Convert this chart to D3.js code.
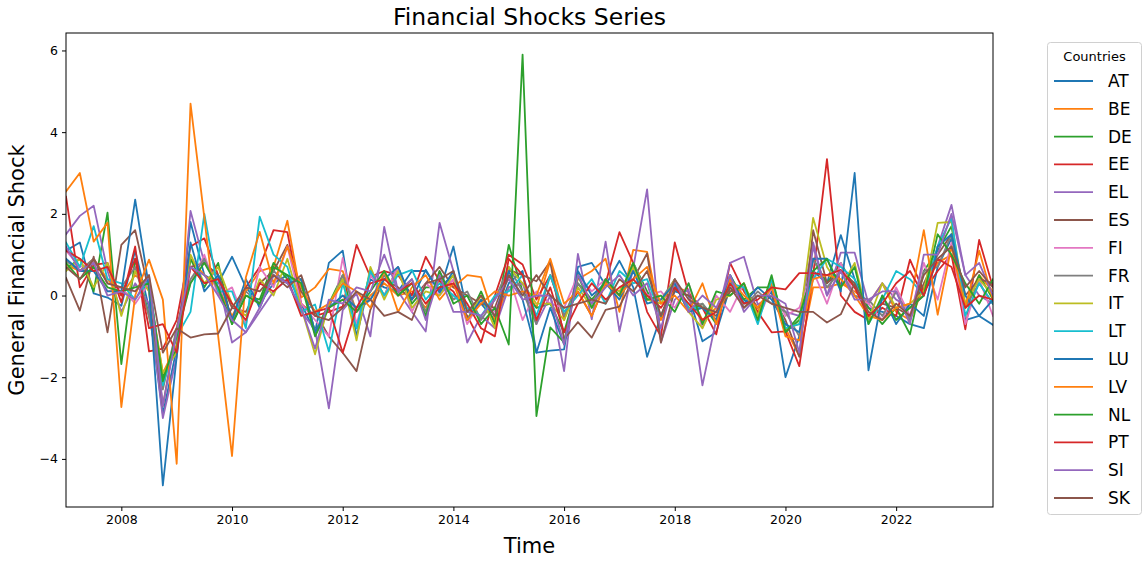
<!DOCTYPE html>
<html><head><meta charset="utf-8">
<script src="https://cdn.jsdelivr.net/npm/d3@7"></script>
<style>
body{margin:0;background:#fff;}
svg{display:block;font-family:"DejaVu Sans",sans-serif;}
</style></head>
<body><svg id="chart" width="1148" height="574"></svg>
<script>
// ---- data (quarterly, 2007Q1 .. 2023Q4) ----
const countries = ["AT","BE","DE","EE","EL","ES","FI","FR","IT","LT","LU","LV","NL","PT","SI","SK"];
const startYear = 2007, nQuarters = 68;
const xTicks = [2008,2010,2012,2014,2016,2018,2020,2022];
const yTicks = [-4,-2,0,2,4,6];

const AT = [1.1,1.3,0.05,-0.05,-0.25,1.1,-0.3,-2.9,-1.3,1.8,0.5,0.3,0.95,0.2,-0.2,0.3,0.5,
 -0.2,-0.9,0.8,1.1,-1.0,0.4,0.2,0.1,0.6,0.6,0.1,1.2,-0.4,-0.2,-0.6,0.3,0.6,
 -1.4,-1.35,-1.32,0.7,0.8,0.25,0.85,0.2,-1.5,-0.5,0.1,0.0,-1.12,-0.9,0.2,-0.1,-0.3,
 0.1,-2.0,-1.0,0.6,0.3,1.48,0.4,-0.3,-0.4,-0.5,-0.7,-0.8,0.7,1.4,-0.6,-0.5,-0.72];
const BE = [0.75,0.6,0.9,0.4,0.0,0.5,0.2,-1.9,-1.2,0.9,0.5,0.2,-0.5,0.1,0.6,0.7,1.83,
 -0.05,0.2,0.65,0.6,-0.4,0.0,0.3,0.0,0.1,-0.3,0.4,0.2,0.5,0.45,-0.6,0.2,0.3,
 -0.3,0.85,-0.6,0.4,0.6,0.9,-0.4,1.12,1.07,-0.6,0.2,0.1,-0.6,-0.3,0.1,0.2,-0.4,
 0.3,-0.8,-1.48,0.2,0.2,0.3,0.1,-0.2,0.3,-0.4,-0.6,0.2,0.8,1.0,-0.2,0.5,0.1];
const DE = [0.65,0.9,0.1,2.03,-1.68,0.9,-0.5,-2.0,-1.3,0.9,0.2,0.8,-0.7,0.0,-0.1,0.8,0.4,
 0.4,-0.9,-0.2,0.5,-0.8,0.6,0.0,0.7,-0.2,0.2,0.2,0.5,-0.6,0.1,-0.7,1.24,0.1,
 -0.3,-0.2,-0.9,0.3,-0.1,0.3,0.0,0.8,0.1,-0.5,0.3,-0.4,-0.2,-0.7,0.5,-0.1,0.2,
 0.2,-0.9,-0.6,0.9,0.3,0.8,0.2,-0.3,-0.7,-0.3,-0.95,0.6,1.1,1.7,-0.3,0.5,-0.1];
const EE = [2.42,0.2,0.75,0.8,-0.17,1.2,-1.37,-1.3,-0.6,1.2,1.4,0.5,-0.6,0.2,0.7,1.6,1.55,
 -0.2,-0.5,-0.4,-0.27,1.24,0.46,0.6,0.5,0.0,0.95,0.35,0.1,-0.5,-1.15,0.0,1.0,0.76,
 -0.1,0.5,-0.5,0.1,-0.5,0.3,1.55,0.8,-0.4,-1.0,1.3,0.05,-0.3,-0.95,0.8,0.1,-0.4,
 -0.9,-0.88,-1.73,0.5,3.34,0.0,-0.4,-0.6,-0.3,-0.5,0.88,0.1,0.6,1.0,-0.83,1.36,0.2];
const EL = [1.5,1.95,2.2,0.6,-0.4,0.3,-0.2,-3.0,-1.5,2.07,0.8,0.4,-1.15,-0.9,-0.4,0.1,0.4,
 -0.4,-0.83,-2.76,-0.36,0.05,-1.0,1.68,0.1,-0.4,-0.88,1.78,0.6,-1.15,-0.5,-0.8,0.2,0.3,
 -0.7,0.0,-1.85,1.02,-0.58,1.32,-0.88,0.68,2.6,-1.15,-0.1,0.15,-2.2,-0.58,0.8,0.95,-0.22,
 0.0,-0.4,-0.5,1.3,0.0,1.05,1.05,-0.2,0.3,-0.1,-0.3,0.0,1.2,2.22,0.5,0.0,-0.2];
const ES = [0.43,-0.37,0.95,-0.9,1.24,1.6,0.1,-2.7,-0.8,0.7,0.8,0.5,-0.3,-0.4,0.3,0.6,1.24,
 0.1,-0.4,-1.0,-1.4,-1.85,-0.35,0.4,0.2,-0.1,0.3,0.7,0.2,0.0,-0.2,-0.3,0.63,0.5,
 0.35,0.83,-1.07,-0.65,-1.03,-0.35,-0.27,0.4,1.03,-1.15,0.15,0.0,-0.3,-0.5,0.1,0.2,-0.3,
 0.0,-0.6,-1.5,1.6,0.3,0.6,0.3,-0.5,-0.2,-0.3,-0.5,0.3,1.0,1.5,0.0,0.4,0.3];
const FI = [1.1,0.7,0.8,0.1,0.2,-0.2,0.3,-2.2,-0.9,0.3,1.0,0.0,0.2,-0.7,0.7,0.2,1.2,
 -0.2,-0.6,-1.0,0.92,-0.7,0.5,0.0,0.7,-0.4,0.3,0.0,0.4,-0.7,-0.1,-0.4,0.5,-0.6,
 0.1,-0.2,-0.3,0.5,0.1,0.4,0.0,0.8,0.0,0.1,-0.3,0.3,-0.8,0.0,-0.4,0.3,-0.6,
 0.2,-0.5,-0.3,0.6,-0.2,0.8,0.0,-0.2,-0.6,0.2,-0.5,0.8,-0.1,1.3,-0.7,0.4,-0.5];
const FR = [0.85,0.6,0.9,0.3,0.2,0.7,-0.5,-2.3,-0.8,0.4,0.9,0.1,-0.6,0.1,-0.2,0.6,0.3,
 0.4,-0.9,-0.3,0.5,-0.4,-0.1,0.5,0.0,0.4,-0.4,0.6,-0.1,0.1,-0.6,-0.1,0.7,0.1,
 -0.7,0.5,-0.5,0.3,-0.2,0.4,0.0,0.7,-0.1,-0.1,0.4,-0.3,-0.2,-0.6,0.4,-0.3,0.1,
 -0.2,-0.4,-1.0,0.9,0.2,0.6,0.0,-0.1,-0.5,0.1,-0.6,0.6,0.7,1.5,-0.3,0.3,-0.2];
const IT = [0.6,0.9,0.2,0.8,-0.5,0.6,0.1,-1.9,-1.4,1.0,0.3,0.7,-0.2,-0.5,0.4,0.0,0.9,
 -0.3,-1.44,-0.2,0.4,-1.1,0.7,-0.1,0.6,-0.3,0.1,0.0,0.5,-0.6,0.0,-0.8,0.7,0.3,
 -0.2,-0.2,-0.6,0.2,-0.3,0.3,0.1,0.7,-0.1,-0.2,0.4,-0.4,-0.8,-0.1,0.0,0.3,-0.5,
 0.42,-0.8,-0.7,1.9,0.7,0.2,0.8,-0.6,0.3,-0.3,-0.2,0.1,1.78,1.8,-0.2,0.4,0.0];
const LT = [1.3,0.7,1.7,0.4,0.3,-0.1,0.4,-2.2,-1.0,-0.4,2.0,0.1,0.1,-0.8,1.93,1.0,0.7,
 -0.4,-0.22,-1.37,0.3,-0.8,0.6,0.0,0.5,0.63,-0.1,0.3,0.0,-0.3,-0.5,0.0,0.1,0.5,
 -0.5,0.5,-0.4,0.0,0.4,-0.2,0.6,0.3,0.4,-0.5,0.3,-0.3,-0.3,-0.6,0.3,0.2,-0.7,
 0.4,-0.8,-0.7,0.4,0.9,0.7,0.4,-0.7,-0.1,0.6,0.4,0.0,1.2,1.9,-0.5,0.3,-0.2];
const LU = [0.9,0.6,0.6,0.1,0.1,2.35,0.2,-4.65,-1.5,1.3,0.1,0.5,-0.6,0.4,-0.3,0.5,0.3,
 0.4,-0.9,-0.3,0.0,-0.3,-0.1,0.4,0.7,-0.1,0.63,0.07,0.6,-0.6,-0.1,-0.5,0.6,-0.1,
 -1.4,-0.3,-1.2,0.6,0.0,0.3,-0.1,0.6,-0.2,-0.1,0.3,-0.4,-0.3,-0.6,0.5,-0.2,0.2,
 -0.1,-0.7,-0.9,0.9,0.9,0.1,3.0,-1.83,0.0,-0.7,-0.2,-0.5,1.2,1.5,0.0,-0.5,-0.1];
const LV = [2.55,3.0,1.32,1.78,-2.73,0.0,0.88,-0.1,-4.12,4.7,1.9,-1.0,-3.93,0.45,1.56,0.3,1.2,
 0.2,-0.4,-0.2,0.3,0.1,-0.3,0.6,-0.4,0.2,0.5,-0.1,0.3,-0.6,-0.2,0.1,0.0,0.1,
 0.0,0.9,-0.2,0.1,-0.5,0.3,0.0,0.4,0.7,-0.2,0.0,-0.4,0.3,-0.7,0.4,0.0,-0.3,
 0.2,-1.0,-1.1,0.4,0.5,0.4,0.0,-0.5,-0.6,-0.3,-0.2,1.6,-0.47,1.2,-0.3,1.1,-0.1];
const NL = [0.8,0.4,0.7,0.2,0.1,0.2,0.3,-2.1,-1.0,0.3,0.8,0.2,-0.7,0.0,-0.2,0.7,0.5,
 0.3,-1.0,-0.3,-0.1,-0.4,0.1,0.6,0.0,0.3,-0.5,0.6,-0.2,0.0,-0.7,-0.3,-1.2,5.9,
 -2.95,-0.78,-1.15,0.5,-0.3,0.4,0.0,0.8,-0.1,0.0,-0.4,0.3,-0.7,0.1,0.0,0.3,-0.6,
 0.5,-0.9,-0.5,0.6,0.9,0.2,0.7,-0.7,0.0,-0.6,-0.3,0.0,1.5,1.0,0.3,-0.2,0.4];
const PT = [1.1,0.9,0.6,0.7,0.0,0.9,-0.8,-0.7,-1.4,0.7,0.3,0.4,-0.2,-0.6,0.3,0.1,0.4,
 -0.5,-0.4,-0.3,-1.4,-0.3,0.3,0.4,0.1,0.3,-0.2,0.2,0.3,-0.2,-0.8,-1.0,0.9,0.5,
 -0.6,0.2,-0.9,-0.2,0.3,-0.1,0.2,0.4,0.0,-0.3,0.2,-0.2,-0.6,-0.4,0.3,-0.2,-0.1,
 0.2,0.15,0.55,0.55,0.5,0.63,0.2,-0.5,-0.2,0.3,0.6,0.0,0.9,0.7,-0.3,0.0,-0.1];
const SI = [1.2,0.6,0.8,0.0,0.1,-0.1,0.5,-2.7,-0.9,0.7,0.5,0.0,-0.6,-0.9,-0.3,0.5,0.3,
 -0.3,-1.3,-0.1,-0.2,0.2,0.1,1.0,0.1,0.4,-0.6,0.5,-0.4,-0.4,-0.5,-0.1,0.4,-0.1,
 0.0,0.0,-1.2,0.5,-0.2,0.2,0.5,0.0,0.3,-0.8,0.4,-0.4,0.0,-0.3,0.5,-0.4,0.0,
 0.0,-0.2,-1.4,1.2,0.0,0.6,-0.1,-0.1,0.1,0.1,-0.7,1.0,1.0,2.0,0.5,0.8,0.0];
const SK = [0.7,0.4,0.9,0.3,0.2,0.1,0.5,-1.4,-0.8,-1.03,-0.95,-0.93,-0.3,0.2,0.1,0.5,0.2,
 0.5,-0.5,-0.6,-0.3,0.1,-0.1,-0.5,-0.4,-0.6,0.3,0.4,0.6,-0.4,0.0,-0.5,0.5,0.0,
 0.5,0.0,-0.3,-0.2,-0.1,-0.2,0.4,0.1,0.6,-0.5,0.4,-0.1,-0.3,-0.4,0.2,-0.3,0.0,
 -0.2,-0.3,-0.4,-0.4,-0.66,-0.46,0.3,-0.4,-0.6,-0.2,-0.5,0.5,0.9,1.2,0.2,0.6,0.2];

const seriesValues = {AT,BE,DE,EE,EL,ES,FI,FR,IT,LT,LU,LV,NL,PT,SI,SK};
const palette = ["#1f77b4","#ff7f0e","#2ca02c","#d62728","#9467bd","#8c564b","#e377c2","#7f7f7f","#bcbd22","#17becf"];

// ---- layout ----
const svg = d3.select("#chart");
const L = 66, R = 993, T = 33, B = 507;
const times = d3.range(nQuarters).map(i => startYear + i / 4);

const allVals = countries.flatMap(c => seriesValues[c]);
const [ymin, ymax] = d3.extent(allVals);
const pad = (ymax - ymin) * 0.05;

const x = d3.scaleLinear().domain([times[0], times[times.length - 1]]).range([L, R]);
const y = d3.scaleLinear().domain([ymin - pad, ymax + pad]).range([B, T]);
const color = d3.scaleOrdinal().domain(countries).range(palette);

svg.append("defs").append("clipPath").attr("id","clip")
  .append("rect").attr("x",L).attr("y",T).attr("width",R-L).attr("height",B-T);

const line = d3.line().x((d,i) => x(times[i])).y(d => y(d));
const g = svg.append("g").attr("clip-path","url(#clip)");
countries.forEach(c => {
  g.append("path").datum(seriesValues[c])
    .attr("d", line).attr("fill","none")
    .attr("stroke", color(c)).attr("stroke-width",1.8)
    .attr("stroke-linejoin","round").attr("stroke-linecap","square");
});

// frame
svg.append("rect").attr("x",L).attr("y",T).attr("width",R-L).attr("height",B-T)
  .attr("fill","none").attr("stroke","#000").attr("stroke-width",1);

// axes
const minus = v => (v < 0 ? "\u2212" + Math.abs(v) : String(v));
const xa = svg.append("g").attr("transform",`translate(0,${B})`)
  .call(d3.axisBottom(x).tickValues(xTicks).tickFormat(d3.format("d")).tickSize(4).tickPadding(4));
const ya = svg.append("g").attr("transform",`translate(${L},0)`)
  .call(d3.axisLeft(y).tickValues(yTicks).tickFormat(minus).tickSize(4).tickPadding(4));
[xa, ya].forEach(a => {
  a.select(".domain").remove();
  a.selectAll("text").attr("font-family","DejaVu Sans").attr("font-size",12.5).attr("fill","#000");
  a.selectAll("line").attr("stroke","#000");
});

// title and labels
svg.append("text").attr("x",(L+R)/2).attr("y",25).attr("text-anchor","middle")
  .attr("font-size",23.5).attr("fill","#000").text("Financial Shocks Series");
svg.append("text").attr("x",(L+R)/2).attr("y",553).attr("text-anchor","middle")
  .attr("font-size",21).attr("fill","#000").text("Time");
svg.append("text").attr("transform",`translate(24,${(T+B)/2}) rotate(-90)`)
  .attr("text-anchor","middle").attr("font-size",21).attr("fill","#000").text("General Financial Shock");

// legend
const lg = svg.append("g");
lg.append("rect").attr("x",1047.5).attr("y",42.5).attr("width",94).attr("height",472)
  .attr("rx",3).attr("fill","#fff").attr("stroke","#d0d0d0").attr("stroke-width",1);
lg.append("text").attr("x",1094.5).attr("y",61).attr("text-anchor","middle")
  .attr("font-size",13).attr("fill","#000").text("Countries");
countries.forEach((c,i) => {
  const yy = 81 + i * 27.8;
  lg.append("line").attr("x1",1054).attr("x2",1093).attr("y1",yy).attr("y2",yy)
    .attr("stroke",color(c)).attr("stroke-width",1.8);
  lg.append("text").attr("x",1108).attr("y",yy + 6).attr("font-size",17)
    .attr("fill","#000").text(c);
});
</script></body></html>
